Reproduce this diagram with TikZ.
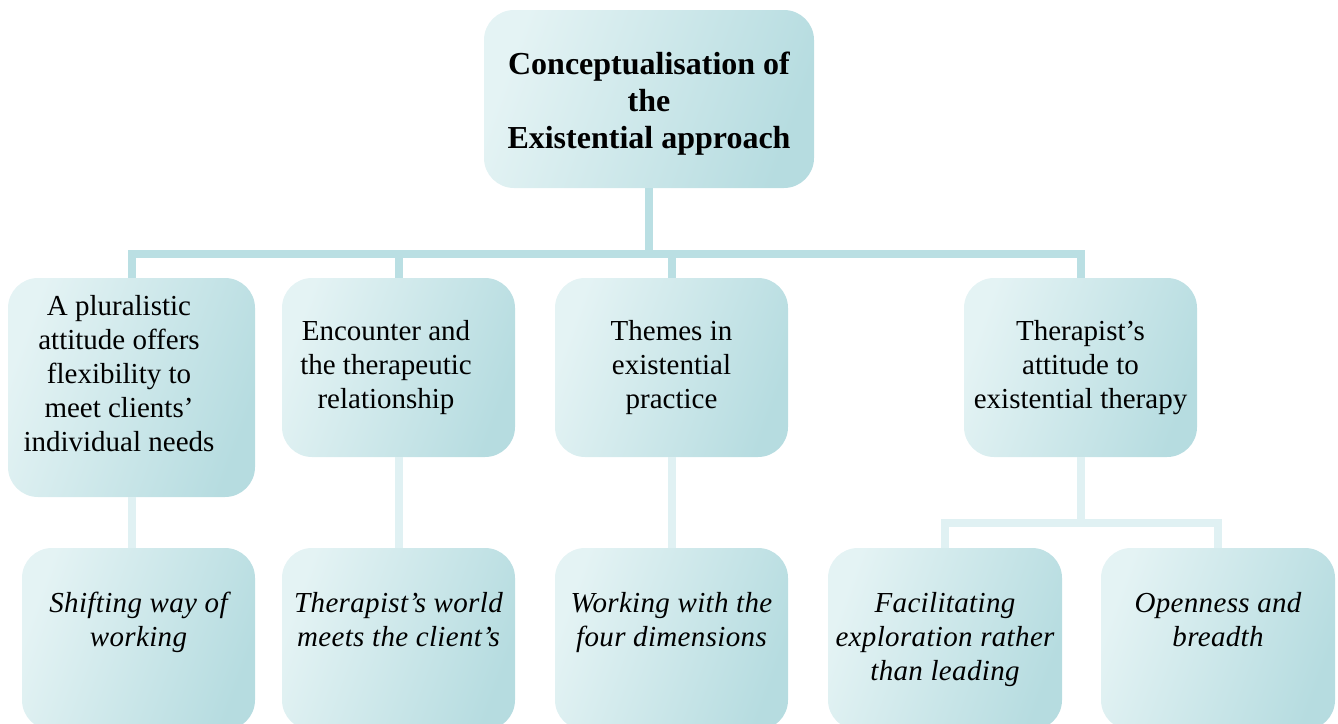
\documentclass[tikz,border=0pt]{standalone}
\usepackage{fontspec}
\setmainfont{Liberation Serif}
\newfontfamily\itsp[LetterSpace=1.2]{Liberation Serif}
\definecolor{boxlight}{HTML}{E4F3F4}
\definecolor{boxdark}{HTML}{B6DCE0}
\definecolor{connA}{HTML}{BADFE3}
\definecolor{connB}{HTML}{E0F1F3}
\begin{document}
\begin{tikzpicture}[x=1pt,y=-1pt,
  box/.style={rectangle, rounded corners=30pt, top color=boxlight, bottom color=boxdark, shading angle=70, inner sep=0pt, draw=none},
  conn1/.style={draw=connA, line width=8pt, line join=miter},
  conn2/.style={draw=connB, line width=8pt, line join=miter},
  txt/.style={align=center, font=\fontsize{29}{34}\selectfont, inner sep=0pt, text=black},
  itxt/.style={align=center, font=\fontsize{29}{34}\selectfont\itsp\itshape, inner sep=0pt, text=black},
  ttxt/.style={align=center, font=\fontsize{32}{37}\selectfont\bfseries, inner sep=0pt, text=black}]
\useasboundingbox (0,0) rectangle (1338,723);
% level 1
\node[box, minimum width=330pt, minimum height=178pt] (top) at (649,99) {};
\node[ttxt] (topt) at (649,104) {Conceptualisation of\\the\\Existential approach};
% level 2
\node[box, minimum width=247pt, minimum height=219pt] (a) at (131.5,387.5) {};
\node[txt, anchor=north] (at) at (119,295) {A pluralistic\\attitude offers\\flexibility to\\meet clients’\\individual needs};
\node[box, minimum width=233pt, minimum height=179pt] (b) at (398.5,367.5) {};
\node[txt] (bt) at (386,367.5) {Encounter and\\the therapeutic\\relationship};
\node[box, txt, minimum width=233pt, minimum height=179pt] (c) at (671.5,367.5) {Themes in\\existential\\practice};
\node[box, txt, minimum width=233pt, minimum height=179pt] (d) at (1080.5,367.5) {Therapist’s\\attitude to\\existential therapy};
% level 3
\node[box, minimum width=233pt, minimum height=182pt] (a3) at (138.5,639) {};
\node[box, minimum width=233pt, minimum height=182pt] (b3) at (398.5,639) {};
\node[box, minimum width=233pt, minimum height=182pt] (c3) at (671.5,639) {};
\node[box, minimum width=234pt, minimum height=182pt] (f3) at (945,639) {};
\node[box, minimum width=234pt, minimum height=182pt] (o3) at (1218,639) {};
\node[itxt, anchor=north] (a3t) at ([yshift=-44pt]a3.north) {Shifting way of\\working};
\node[itxt, anchor=north] (b3t) at ([yshift=-44pt]b3.north) {Therapist’s world\\meets the client’s};
\node[itxt, anchor=north] (c3t) at ([yshift=-44pt]c3.north) {Working with the\\four dimensions};
\node[itxt, anchor=north] (f3t) at ([yshift=-44pt]f3.north) {Facilitating\\exploration rather\\than leading};
\node[itxt, anchor=north] (o3t) at ([yshift=-44pt]o3.north) {Openness and\\breadth};
% connectors
\coordinate (bus) at (649,254);
\coordinate (bus2) at (1080.5,523);
\draw[conn1] (top.south) -- (top.south |- bus) -| (a.north);
\draw[conn1] (top.south |- bus) -| (d.north);
\draw[conn1] (b.north |- bus) -- (b.north);
\draw[conn1] (c.north |- bus) -- (c.north);
\draw[conn2] (a.south) -- (a.south |- a3.north);
\draw[conn2] (b.south) -- (b3.north);
\draw[conn2] (c.south) -- (c3.north);
\draw[conn2] (d.south) -- (d.south |- bus2) -| (f3.north);
\draw[conn2] (d.south |- bus2) -| (o3.north);
\end{tikzpicture}
\end{document}
